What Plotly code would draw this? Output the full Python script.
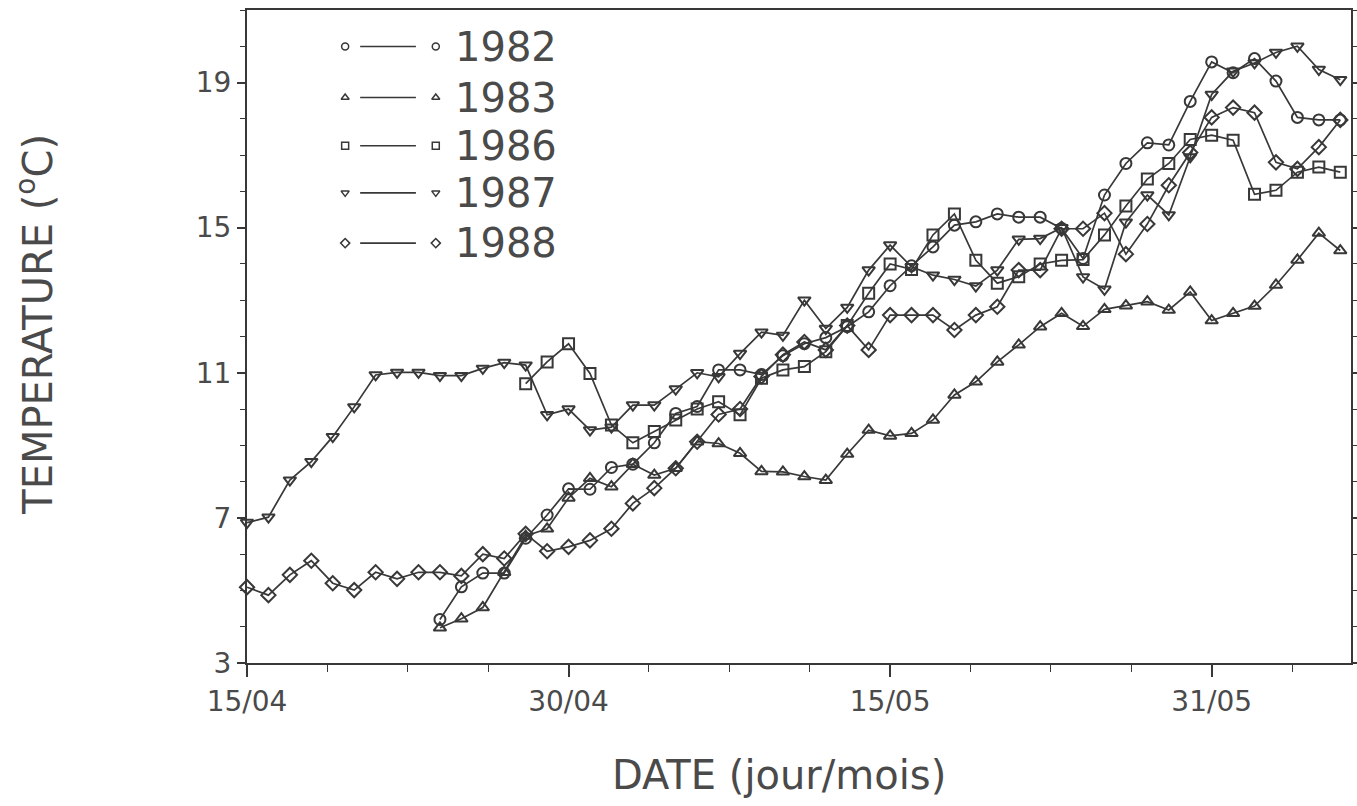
import plotly.graph_objects as go

# ---- data (day index from 15/04) ----
start_1982 = 9
temp_1982 = [4.2, 5.1, 5.48, 5.48, 6.44, 7.08, 7.8, 7.79, 8.39, 8.48, 9.07, 9.88, 10.07, 11.08, 11.08,
             10.95, 11.47, 11.8, 11.97, 12.27, 12.68, 13.4, 13.95, 14.47, 15.07, 15.16, 15.38, 15.29,
             15.29, 14.98, 14.15, 15.9, 16.77, 17.34, 17.28, 18.48, 19.57, 19.27, 19.66, 19.04, 18.04,
             17.97, 17.97]
start_1983 = 9
temp_1983 = [3.97, 4.22, 4.53, 5.5, 6.5, 6.7, 7.55, 8.09, 7.86, 8.48, 8.18, 8.37, 9.1, 9.05, 8.78,
             8.28, 8.27, 8.14, 8.04, 8.76, 9.42, 9.26, 9.33, 9.7, 10.39, 10.75, 11.3, 11.77, 12.27,
             12.64, 12.28, 12.75, 12.85, 12.96, 12.73, 13.23, 12.44, 12.64, 12.84, 13.42, 14.11,
             14.85, 14.37]
start_1986 = 13
temp_1986 = [10.7, 11.3, 11.8, 10.98, 9.56, 9.07, 9.38, 9.7, 10.0, 10.2, 9.84, 10.85, 11.08, 11.17,
             11.58, 12.3, 13.19, 14.0, 13.85, 14.8, 15.38, 14.1, 13.47, 13.65, 14.0, 14.1, 14.12,
             14.8, 15.6, 16.34, 16.77, 17.43, 17.55, 17.41, 15.92, 16.03, 16.53, 16.67, 16.53]
start_1987 = 0
temp_1987 = [6.87, 7.02, 8.04, 8.55, 9.24, 10.06, 10.94, 11.01, 11.01, 10.92, 10.92, 11.12, 11.28,
             11.21, 9.84, 10.0, 9.42, 9.5, 10.11, 10.11, 10.55, 11.0, 10.89, 11.53, 12.12, 12.03,
             13.0, 12.22, 12.8, 13.83, 14.52, 13.92, 13.69, 13.57, 13.39, 13.83, 14.68, 14.7, 15.0,
             13.64, 13.3, 15.15, 15.9, 15.35, 16.95, 18.67, 19.31, 19.54, 19.83, 20.0, 19.36, 19.08]
start_1988 = 0
temp_1988 = [5.09, 4.87, 5.43, 5.82, 5.2, 5.01, 5.5, 5.32, 5.5, 5.5, 5.4, 6.0, 5.88, 6.56, 6.08, 6.2,
             6.38, 6.7, 7.4, 7.82, 8.37, 9.1, 9.85, 10.0, 10.9, 11.5, 11.85, 11.63, 12.3, 11.63,
             12.59, 12.59, 12.59, 12.18, 12.59, 12.82, 13.83, 13.83, 14.97, 14.97, 15.4, 14.27,
             15.1, 16.17, 17.07, 18.04, 18.31, 18.17, 16.8, 16.62, 17.22, 17.97]

years = ["1982", "1983", "1986", "1987", "1988"]
tick_vals = [0, 15, 30, 45]
tick_text = ["15/04", "30/04", "15/05", "31/05"]
y_ticks = [3, 7, 11, 15, 19]

series = [(start_1982, temp_1982), (start_1983, temp_1983), (start_1986, temp_1986),
          (start_1987, temp_1987), (start_1988, temp_1988)]
symbols = ["circle-open", "triangle-up-open", "square-open", "triangle-down-open", "diamond-open"]

INK = "#383838"
TXT = "#4a4a4a"
FONT = "DejaVu Sans"

fig = go.Figure()
for (s, vals), sym, yr in zip(series, symbols, years):
    fig.add_trace(go.Scatter(
        x=list(range(s, s + len(vals))), y=vals, mode="lines+markers", name=yr,
        line=dict(color=INK, width=1.7),
        marker=dict(symbol=sym, size=11, color=INK, line=dict(color=INK, width=2)),
        showlegend=False, cliponaxis=False))

# custom legend drawn on an overlay axis (0..1 paper-like)
leg_rows = [0.944, 0.866, 0.792, 0.720, 0.643]
for yr, sym, ry in zip(years, symbols, leg_rows):
    fig.add_trace(go.Scatter(x=[0.1025, 0.153], y=[ry, ry], mode="lines",
                             line=dict(color=INK, width=1.6), xaxis="x2", yaxis="y2",
                             showlegend=False, hoverinfo="skip"))
    fig.add_trace(go.Scatter(x=[0.0889, 0.171], y=[ry, ry], mode="markers",
                             marker=dict(symbol=sym, size=7, color=INK, line=dict(color=INK, width=1.5)),
                             xaxis="x2", yaxis="y2", showlegend=False, hoverinfo="skip"))
    fig.add_annotation(x=0.187, y=ry, xref="paper", yref="paper", text=yr, showarrow=False,
                       xanchor="left", yanchor="middle",
                       font=dict(family=FONT, size=40, color=TXT))

fig.add_annotation(x=0.482, y=-0.172, xref="paper", yref="paper", text="DATE (jour/mois)",
                   showarrow=False, xanchor="center", yanchor="middle",
                   font=dict(family=FONT, size=40, color=TXT))
fig.add_annotation(x=-0.192, y=0.518, xref="paper", yref="paper",
                   text="TEMPERATURE (<sup>o</sup>C)", textangle=-90,
                   showarrow=False, xanchor="center", yanchor="middle",
                   font=dict(family=FONT, size=40, color=TXT))

fig.update_layout(
    width=1357, height=806,
    margin=dict(l=247, r=6, t=10, b=143, autoexpand=False),
    paper_bgcolor="white", plot_bgcolor="white",
    font=dict(family=FONT, color=TXT),
    xaxis=dict(range=[0, 51.5], tickvals=tick_vals, ticktext=tick_text, automargin=False,
               showgrid=False, zeroline=False, showline=True, linecolor=INK, linewidth=2,
               mirror=True, ticks="outside", ticklen=12, tickwidth=1.5, tickcolor=INK,
               tickfont=dict(family=FONT, size=28, color=TXT),
               minor=dict(tick0=0, dtick=3.75, ticks="outside", ticklen=7, tickwidth=1.2,
                          tickcolor=INK, showgrid=False)),
    yaxis=dict(range=[3, 21], tickvals=y_ticks, showgrid=False, zeroline=False, automargin=False,
               showline=True, linecolor=INK, linewidth=2, mirror="ticks",
               ticks="outside", ticklen=8, tickwidth=1.5, tickcolor=INK,
               tickfont=dict(family=FONT, size=28, color=TXT),
               minor=dict(dtick=1, ticks="outside", ticklen=5, tickwidth=1.2,
                          tickcolor=INK, showgrid=False)),
    xaxis2=dict(range=[0, 1], overlaying="x", visible=False, anchor="y2"),
    yaxis2=dict(range=[0, 1], overlaying="y", visible=False, anchor="x2"),
)

fig.write_html("out.html")
